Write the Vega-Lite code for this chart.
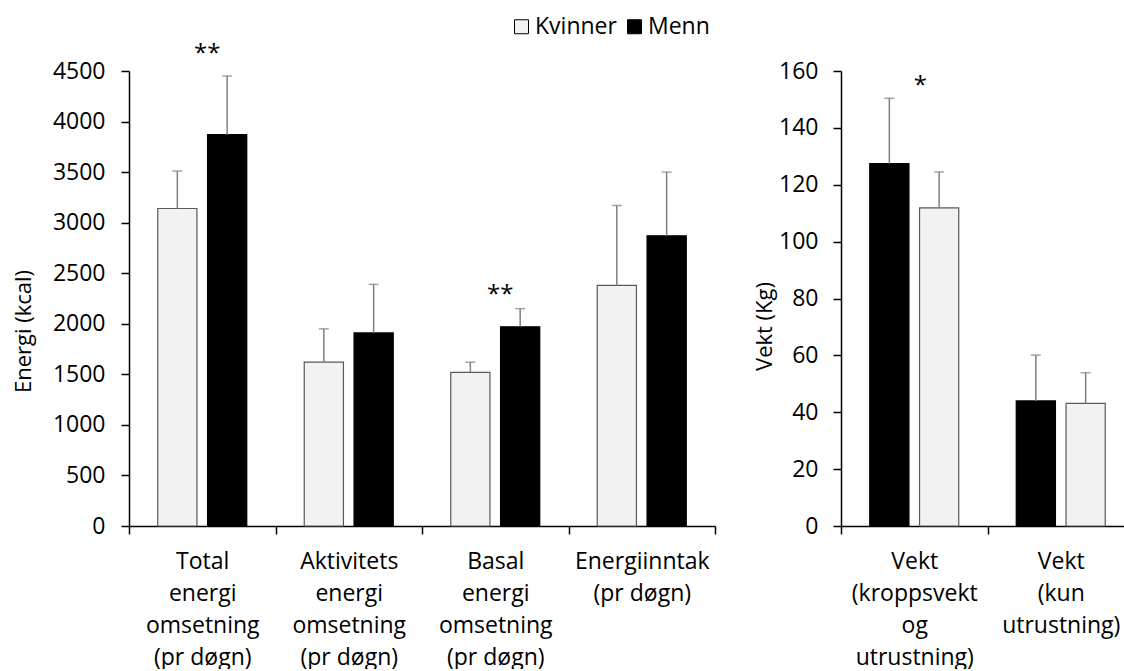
{
  "$schema": "https://vega.github.io/schema/vega-lite/v6.json",
  "autosize": {"type": "pad"},
  "padding": {"left": 12, "top": 15, "right": 0, "bottom": 0},
  "config": {
    "font": "Open Sans",
    "view": {"stroke": null},
    "axis": {
      "labelFont": "Open Sans",
      "labelFontSize": 23,
      "labelColor": "#000000",
      "titleFont": "Open Sans",
      "titleFontSize": 22,
      "titleFontWeight": "normal",
      "titleColor": "#000000",
      "domainColor": "#000000",
      "domainWidth": 1.5,
      "tickColor": "#000000",
      "tickWidth": 1.5,
      "tickSize": 8,
      "grid": false
    },
    "legend": {
      "labelFont": "Open Sans",
      "labelFontSize": 23,
      "labelColor": "#000000"
    }
  },
  "datasets": {
    "energi": [
      {"kategori": "Total\nenergi\nomsetning\n(pr døgn)", "kjonn": "Kvinner", "snitt": 3140, "ovre": 3510},
      {"kategori": "Total\nenergi\nomsetning\n(pr døgn)", "kjonn": "Menn", "snitt": 3870, "ovre": 4450},
      {"kategori": "Aktivitets\nenergi\nomsetning\n(pr døgn)", "kjonn": "Kvinner", "snitt": 1620, "ovre": 1950},
      {"kategori": "Aktivitets\nenergi\nomsetning\n(pr døgn)", "kjonn": "Menn", "snitt": 1910, "ovre": 2390},
      {"kategori": "Basal\nenergi\nomsetning\n(pr døgn)", "kjonn": "Kvinner", "snitt": 1520, "ovre": 1620},
      {"kategori": "Basal\nenergi\nomsetning\n(pr døgn)", "kjonn": "Menn", "snitt": 1970, "ovre": 2150},
      {"kategori": "Energiinntak\n(pr døgn)", "kjonn": "Kvinner", "snitt": 2380, "ovre": 3170},
      {"kategori": "Energiinntak\n(pr døgn)", "kjonn": "Menn", "snitt": 2870, "ovre": 3500}
    ],
    "energi_signif": [
      {"kategori": "Total\nenergi\nomsetning\n(pr døgn)", "merke": "**", "posisjon": 4670},
      {"kategori": "Basal\nenergi\nomsetning\n(pr døgn)", "merke": "**", "posisjon": 2285}
    ],
    "vekt": [
      {"kategori": "Vekt\n(kroppsvekt\nog\nutrustning)", "kjonn": "Menn", "snitt": 127.4, "ovre": 150.4},
      {"kategori": "Vekt\n(kroppsvekt\nog\nutrustning)", "kjonn": "Kvinner", "snitt": 111.9, "ovre": 124.5},
      {"kategori": "Vekt\n(kun\nutrustning)", "kjonn": "Menn", "snitt": 44.0, "ovre": 60.1},
      {"kategori": "Vekt\n(kun\nutrustning)", "kjonn": "Kvinner", "snitt": 43.1, "ovre": 53.9}
    ],
    "vekt_signif": [
      {"kategori": "Vekt\n(kroppsvekt\nog\nutrustning)", "merke": "*", "posisjon": 154.6}
    ]
  },
  "bounds": "flush",
  "spacing": 126,
  "resolve": {"scale": {"x": "independent", "y": "independent", "xOffset": "independent", "color": "shared"}},
  "hconcat": [
    {
      "width": 586,
      "height": 455,
      "encoding": {
        "x": {
          "field": "kategori",
          "type": "nominal",
          "scale": {
            "domain": [
              "Total\nenergi\nomsetning\n(pr døgn)",
              "Aktivitets\nenergi\nomsetning\n(pr døgn)",
              "Basal\nenergi\nomsetning\n(pr døgn)",
              "Energiinntak\n(pr døgn)"
            ],
            "paddingInner": 0,
            "paddingOuter": 0
          },
          "axis": {
            "title": null,
            "labelAngle": 0,
            "labelExpr": "split(datum.label, '\\n')",
            "labelLineHeight": 32,
            "labelBaseline": "top",
            "labelPadding": 16,
            "tickBand": "extent"
          }
        }
      },
      "layer": [
        {
          "data": {"name": "energi"},
          "mark": {"type": "bar", "strokeWidth": 1.2},
          "encoding": {
            "xOffset": {"field": "kjonn", "scale": {"domain": ["Kvinner", "Menn"], "paddingInner": 0.213, "paddingOuter": 0.577}},
            "y": {
              "field": "snitt",
              "type": "quantitative",
              "scale": {"domain": [0, 4500], "nice": false},
              "axis": {
                "title": "Energi (kcal)",
                "values": [0, 500, 1000, 1500, 2000, 2500, 3000, 3500, 4000, 4500],
                "format": "d",
                "labelPadding": 16,
                "titleAnchor": "middle",
                "titleBaseline": "middle",
                "titleX": -106,
                "titleY": 260
              }
            },
            "color": {
              "field": "kjonn",
              "type": "nominal",
              "scale": {"domain": ["Kvinner", "Menn"], "range": ["#f2f2f2", "#000000"]},
              "legend": {
                "title": null,
                "orient": "none",
                "direction": "horizontal",
                "legendX": 381,
                "legendY": -56,
                "padding": 0,
                "symbolType": "square",
                "symbolSize": 196,
                "symbolStrokeColor": "#595959",
                "symbolStrokeWidth": 1,
                "labelOffset": 2,
                "columnPadding": 6
              }
            },
            "stroke": {
              "condition": {"test": "datum.kjonn === 'Kvinner'", "value": "#595959"},
              "value": "#000000"
            }
          }
        },
        {
          "data": {"name": "energi"},
          "mark": {"type": "rule", "color": "#7f7f7f", "strokeWidth": 1.5},
          "encoding": {
            "xOffset": {"field": "kjonn", "scale": {"domain": ["Kvinner", "Menn"], "paddingInner": 0.213, "paddingOuter": 0.577}},
            "y": {"field": "snitt", "type": "quantitative", "scale": {"domain": [0, 4500], "nice": false}},
            "y2": {"field": "ovre"}
          }
        },
        {
          "data": {"name": "energi"},
          "mark": {"type": "tick", "color": "#7f7f7f", "thickness": 1.5, "size": 10},
          "encoding": {
            "xOffset": {"field": "kjonn", "scale": {"domain": ["Kvinner", "Menn"], "paddingInner": 0.213, "paddingOuter": 0.577}},
            "y": {"field": "ovre", "type": "quantitative", "scale": {"domain": [0, 4500], "nice": false}}
          }
        },
        {
          "data": {"name": "energi_signif"},
          "mark": {"type": "text", "fontSize": 24, "baseline": "middle", "color": "#000000", "dx": 5},
          "encoding": {
            "y": {"field": "posisjon", "type": "quantitative", "scale": {"domain": [0, 4500], "nice": false}},
            "text": {"field": "merke"}
          }
        }
      ]
    },
    {
      "width": 293,
      "height": 455,
      "encoding": {
        "x": {
          "field": "kategori",
          "type": "nominal",
          "scale": {
            "domain": [
              "Vekt\n(kroppsvekt\nog\nutrustning)",
              "Vekt\n(kun\nutrustning)"
            ],
            "paddingInner": 0,
            "paddingOuter": 0
          },
          "axis": {
            "title": null,
            "labelAngle": 0,
            "labelExpr": "split(datum.label, '\\n')",
            "labelLineHeight": 32,
            "labelBaseline": "top",
            "labelPadding": 16,
            "tickBand": "extent"
          }
        }
      },
      "layer": [
        {
          "data": {"name": "vekt"},
          "mark": {"type": "bar", "strokeWidth": 1.2},
          "encoding": {
            "xOffset": {"field": "kjonn", "scale": {"domain": ["Menn", "Kvinner"], "paddingInner": 0.213, "paddingOuter": 0.577}},
            "y": {
              "field": "snitt",
              "type": "quantitative",
              "scale": {"domain": [0, 160], "nice": false},
              "axis": {
                "title": "Vekt (Kg)",
                "values": [0, 20, 40, 60, 80, 100, 120, 140, 160],
                "format": "d",
                "labelPadding": 15,
                "titleAnchor": "middle",
                "titleBaseline": "middle",
                "titleX": -77,
                "titleY": 255
              }
            },
            "color": {
              "field": "kjonn",
              "type": "nominal",
              "scale": {"domain": ["Kvinner", "Menn"], "range": ["#f2f2f2", "#000000"]}
            },
            "stroke": {
              "condition": {"test": "datum.kjonn === 'Kvinner'", "value": "#595959"},
              "value": "#000000"
            }
          }
        },
        {
          "data": {"name": "vekt"},
          "mark": {"type": "rule", "color": "#7f7f7f", "strokeWidth": 1.5},
          "encoding": {
            "xOffset": {"field": "kjonn", "scale": {"domain": ["Menn", "Kvinner"], "paddingInner": 0.213, "paddingOuter": 0.577}},
            "y": {"field": "snitt", "type": "quantitative", "scale": {"domain": [0, 160], "nice": false}},
            "y2": {"field": "ovre"}
          }
        },
        {
          "data": {"name": "vekt"},
          "mark": {"type": "tick", "color": "#7f7f7f", "thickness": 1.5, "size": 10},
          "encoding": {
            "xOffset": {"field": "kjonn", "scale": {"domain": ["Menn", "Kvinner"], "paddingInner": 0.213, "paddingOuter": 0.577}},
            "y": {"field": "ovre", "type": "quantitative", "scale": {"domain": [0, 160], "nice": false}}
          }
        },
        {
          "data": {"name": "vekt_signif"},
          "mark": {"type": "text", "fontSize": 24, "baseline": "middle", "color": "#000000", "dx": 6},
          "encoding": {
            "y": {"field": "posisjon", "type": "quantitative", "scale": {"domain": [0, 160], "nice": false}},
            "text": {"field": "merke"}
          }
        }
      ]
    }
  ]
}
